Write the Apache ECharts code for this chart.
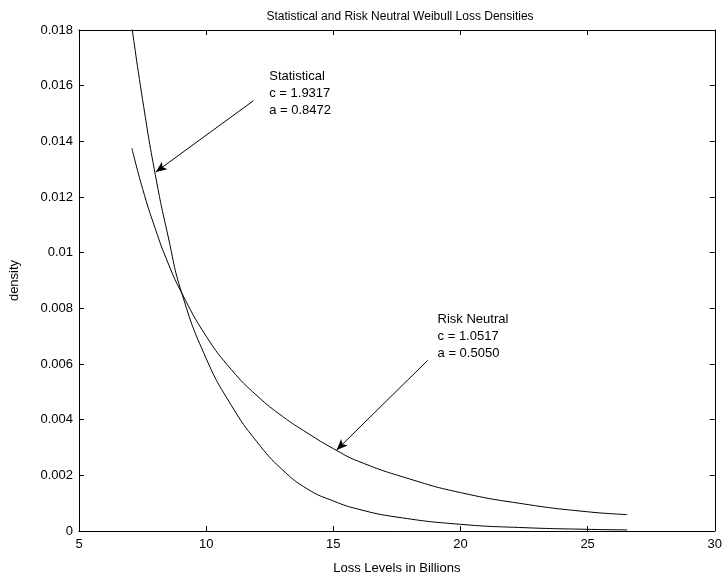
<!DOCTYPE html>
<html>
<head>
<meta charset="utf-8">
<script src="https://cdn.jsdelivr.net/npm/echarts@6/dist/echarts.min.js"></script>
<style>
html,body{margin:0;padding:0;background:#fff;}
#c{width:725px;height:580px;}
</style>
</head>
<body>
<div id="c"></div>
<script>
// Loss levels (x) and densities
const statX = [7.08, 7.5, 8.0, 8.5, 9.04, 10.0, 11.0, 12.0, 13.0, 14.0, 15.0, 16.0, 17.5, 20.0, 22.5, 25.0, 26.56];
const statY = [0.0181, 0.0155, 0.0128, 0.0106, 0.00855, 0.0062, 0.0045, 0.0032, 0.0022, 0.0015, 0.00108, 0.00078, 0.00050, 0.00024, 0.00012, 0.00006, 0.00004];
const rnX = [7.08, 7.5, 8.0, 8.5, 9.04, 10.0, 11.0, 12.0, 13.0, 14.0, 15.0, 16.0, 18.0, 20.0, 22.5, 25.0, 26.56];
const rnY = [0.01375, 0.0123, 0.01086, 0.00963, 0.00855, 0.0070, 0.00579, 0.00486, 0.00412, 0.00351, 0.00296, 0.00250, 0.00187, 0.00138, 0.00097, 0.00069, 0.00059];
const xTicks = [5, 10, 15, 20, 25, 30];
const yTicks = [0, 0.002, 0.004, 0.006, 0.008, 0.01, 0.012, 0.014, 0.016, 0.018];
const titleText = 'Statistical and Risk Neutral Weibull Loss Densities';
const xName = 'Loss Levels in Billions';
const yName = 'density';
const statLabel = ['Statistical', 'c = 1.9317', 'a = 0.8472'];
const rnLabel = ['Risk Neutral', 'c = 1.0517', 'a = 0.5050'];
const statArrow = [[11.86, 0.01546], [8.02, 0.01290]];
const rnArrow = [[18.71, 0.00613], [15.13, 0.00291]];
const statTextAt = [12.48, 0.01665];
const rnTextAt = [19.10, 0.00790];

const FONT = 'Liberation Sans, Arial, Helvetica, sans-serif';
const pair = (xs, ys) => xs.map((x, i) => [x, ys[i]]);

const chart = echarts.init(document.getElementById('c'), null, {renderer: 'canvas'});

function arrowLine(a) {
  return {
    silent: true,
    symbol: ['none', 'arrow'],
    symbolSize: [7, 11],
    lineStyle: {color: '#000', width: 1, type: 'solid'},
    label: {show: false},
    data: [[{coord: a[0]}, {coord: a[1]}]]
  };
}
function textPoint(pos, lines) {
  return {
    silent: true,
    symbol: 'circle',
    symbolSize: 0,
    data: [{
      coord: pos,
      label: {
        show: true,
        position: 'inside',
        align: 'left',
        verticalAlign: 'top',
        formatter: lines.join('\n'),
        color: '#000',
        fontFamily: FONT,
        fontSize: 13,
        lineHeight: 17
      }
    }]
  };
}

const axisCommon = {
  axisLine: {show: true, onZero: false, lineStyle: {color: '#000', width: 1}},
  axisTick: {show: true, inside: true, length: 5, lineStyle: {color: '#000'}},
  splitLine: {show: false}
};

chart.setOption({
  animation: false,
  backgroundColor: '#fff',
  title: {
    text: titleText,
    left: 395, top: 6, textAlign: 'center',
    textStyle: {fontFamily: FONT, fontSize: 12, fontWeight: 'normal', color: '#000'}
  },
  grid: {left: 73, right: 7, top: 30, bottom: 42},
  xAxis: [
    Object.assign({
      type: 'value', min: xTicks[0], max: xTicks[xTicks.length - 1], interval: 5,
      position: 'bottom',
      name: xName, nameLocation: 'middle', nameGap: 31,
      nameTextStyle: {fontFamily: FONT, fontSize: 13, color: '#000'},
      axisLabel: {fontFamily: FONT, fontSize: 13, color: '#000', margin: 7}
    }, axisCommon),
    Object.assign({
      type: 'value', min: xTicks[0], max: xTicks[xTicks.length - 1], interval: 5,
      position: 'top', axisLabel: {show: false}
    }, axisCommon)
  ],
  yAxis: [
    Object.assign({
      type: 'value', min: yTicks[0], max: yTicks[yTicks.length - 1], interval: 0.002,
      position: 'left',
      name: yName, nameLocation: 'middle', nameGap: 58, nameRotate: 90,
      nameTextStyle: {fontFamily: FONT, fontSize: 13, color: '#000'},
      axisLabel: {fontFamily: FONT, fontSize: 13, color: '#000', margin: 6,
        formatter: v => String(+v.toFixed(3))}
    }, axisCommon),
    Object.assign({
      type: 'value', min: yTicks[0], max: yTicks[yTicks.length - 1], interval: 0.002,
      position: 'right', axisLabel: {show: false}
    }, axisCommon)
  ],
  series: [
    {
      type: 'line', name: 'Statistical', data: pair(statX, statY),
      smooth: true, showSymbol: false, clip: true,
      lineStyle: {color: '#000', width: 1},
      markLine: arrowLine(statArrow),
      markPoint: textPoint(statTextAt, statLabel)
    },
    {
      type: 'line', name: 'Risk Neutral', data: pair(rnX, rnY),
      smooth: true, showSymbol: false, clip: true,
      lineStyle: {color: '#000', width: 1},
      markLine: arrowLine(rnArrow),
      markPoint: textPoint(rnTextAt, rnLabel)
    }
  ]
});
</script>
</body>
</html>
